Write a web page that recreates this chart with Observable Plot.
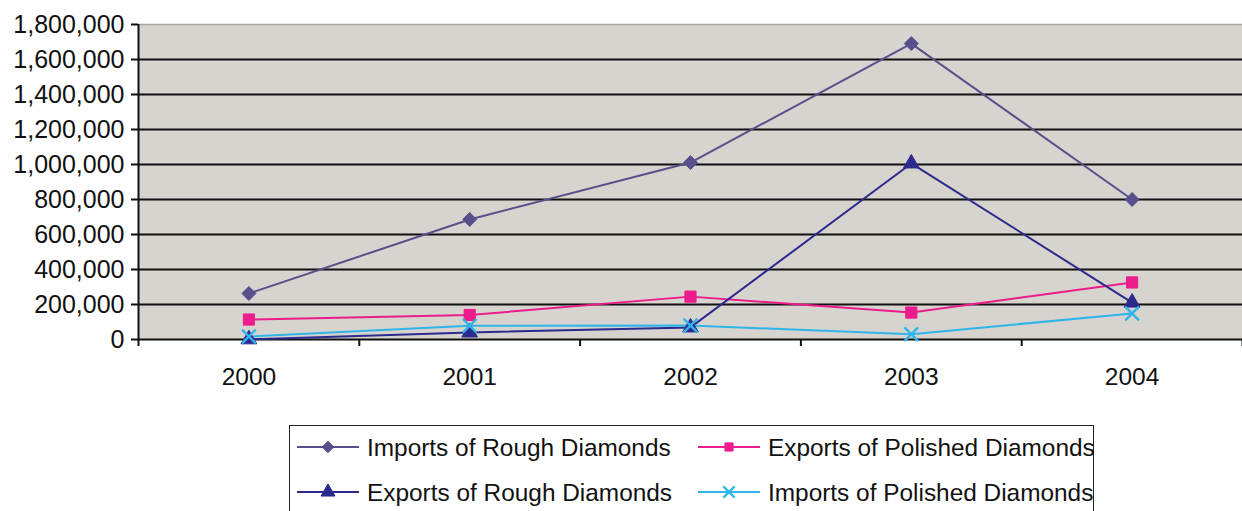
<!DOCTYPE html>
<html><head><meta charset="utf-8">
<script src="https://cdn.jsdelivr.net/npm/d3@7"></script>
<script src="https://cdn.jsdelivr.net/npm/@observablehq/plot@0.6"></script>
<style>
body{margin:0;background:#fff;font-family:"Liberation Sans",Arial,sans-serif;}
#wrap{position:relative;width:1242px;height:511px;overflow:hidden;}
#legend{position:absolute;left:289px;top:425px;width:805px;height:110px;border:1.5px solid #222;box-sizing:border-box;overflow:visible;}
#legend svg{position:absolute;left:-1.5px;top:-1.5px;overflow:visible;}
</style></head><body><div id="wrap"><div id="chart"></div><div id="legend"></div></div>
<script>
const years = [2000, 2001, 2002, 2003, 2004];
const seriesNames = ["Imports of Rough Diamonds", "Exports of Polished Diamonds", "Exports of Rough Diamonds", "Imports of Polished Diamonds"];
const importsRough = [263000, 686000, 1011000, 1691000, 800000];
const exportsPolished = [114000, 140000, 245000, 154000, 326000];
const exportsRough = [1000, 40000, 69000, 1006000, 211000];
const importsPolished = [17000, 78000, 80000, 30000, 149000];
const seriesValues = [importsRough, exportsPolished, exportsRough, importsPolished];
const seriesColors = ["#58508c", "#ec1c8c", "#2c2a8c", "#2fb5ea"];
const seriesSymbols = ["diamond2", "square", "triangle", "times"];
const seriesFilled = [true, true, true, false];
const yTicks = d3.range(0, 1800001, 200000);

const table = seriesNames.flatMap((name, i) => years.map((year, j) => ({series: name, year, value: seriesValues[i][j]})));
const boundaries = d3.range(years.length + 1).map(k => years[0] - 0.5 + k);

const dotMarks = seriesNames.map((name, i) => Plot.dot(table.filter(d => d.series === name), {
  x: "year", y: "value", symbol: () => seriesSymbols[i], r: seriesSymbols[i] === "triangle" ? 5.8 : 6.3,
  fill: seriesFilled[i] ? seriesColors[i] : "none", stroke: seriesColors[i],
  strokeWidth: seriesFilled[i] ? 1 : 2.4
}));

const chart = Plot.plot({
  width: 1242, height: 400,
  marginLeft: 138, marginRight: 0, marginTop: 24, marginBottom: 61,
  style: {fontFamily: "'Liberation Sans', Arial, sans-serif", fontSize: "24px", color: "#111", background: "transparent"},
  x: {type: "linear", domain: [years[0] - 0.5, years[years.length - 1] + 0.5]},
  y: {domain: [0, 1800000]},
  color: {domain: seriesNames, range: seriesColors},
  marks: [
    Plot.frame({fill: "#d7d3cf", stroke: "none"}),
    Plot.ruleY(yTicks.filter(v => v > 0 && v < 1800000), {stroke: "#111", strokeWidth: 2}),
    Plot.ruleY([1800000], {stroke: "#a9a6a3", strokeWidth: 1.5}),
    Plot.axisY({ticks: yTicks, tickFormat: d3.format(","), tickSize: 7, tickPadding: 7, fontSize: 25, stroke: "#111", strokeWidth: 2, label: null}),
    Plot.axisX({ticks: years, tickFormat: d => String(d), tickSize: 0, tickPadding: 28, fontSize: 24.5, label: null}),
    Plot.axisX({ticks: boundaries, tickFormat: () => "", tickSize: 7, stroke: "#111", strokeWidth: 2, label: null}),
    Plot.ruleY([0], {stroke: "#111", strokeWidth: 2}),
    Plot.ruleX([years[0] - 0.5], {stroke: "#111", strokeWidth: 2}),
    Plot.lineY(table, {x: "year", y: "value", z: "series", stroke: "series", strokeWidth: 2}),
    ...dotMarks
  ]
});
document.getElementById("chart").appendChild(chart);

// Legend
const lsvg = d3.select("#legend").append("svg").attr("width", 840).attr("height", 110);
const colX = [0, 401];
const rowY = [22, 67];
const lineSpan = [8, 70];
seriesNames.forEach((name, i) => {
  const c = i % 2, r = Math.floor(i / 2);
  const g = lsvg.append("g").attr("transform", `translate(${colX[c]},${rowY[r]})`);
  const [a, b] = lineSpan;
  g.append("line").attr("x1", a).attr("x2", b).attr("stroke", seriesColors[i]).attr("stroke-width", 2);
  const sym = {diamond2: d3.symbolDiamond2, square: d3.symbolSquare, triangle: d3.symbolTriangle, times: d3.symbolTimes}[seriesSymbols[i]];
  const rr = seriesSymbols[i] === "triangle" ? 5.2 : seriesSymbols[i] === "square" ? 4.6 : 5.2;
  g.append("path").attr("transform", `translate(${(a + b) / 2},0)`)
    .attr("d", d3.symbol(sym, Math.PI * rr * rr)())
    .attr("fill", seriesFilled[i] ? seriesColors[i] : "none")
    .attr("stroke", seriesColors[i]).attr("stroke-width", seriesFilled[i] ? 1 : 2.2);
  g.append("text").attr("x", b + 8).attr("y", 0).attr("dy", "0.35em")
    .attr("font-family", "'Liberation Sans', Arial, sans-serif").attr("font-size", 24.4).attr("fill", "#111")
    .text(name);
});
</script></body></html>
